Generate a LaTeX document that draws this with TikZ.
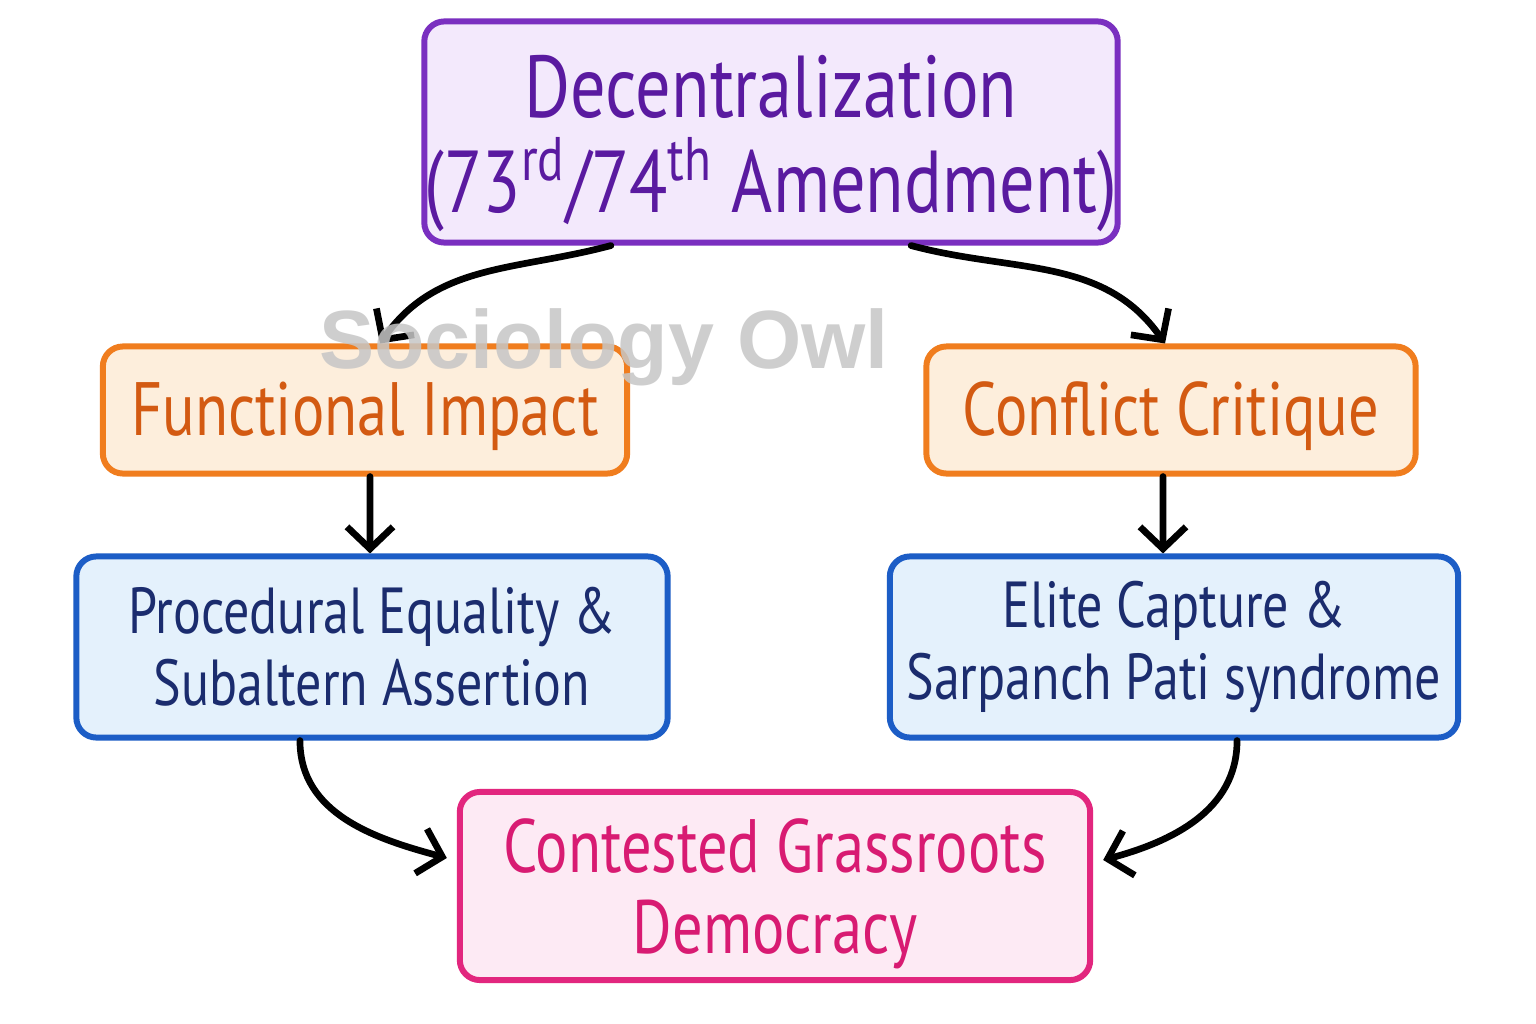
\documentclass[tikz,border=0pt]{standalone}
\usepackage{fontspec}
\setmainfont{PT Sans}[FakeStretch=0.8]
\newfontfamily\markfont{Liberation Sans}
\usetikzlibrary{positioning}
\usetikzlibrary{arrows.meta}

\definecolor{purpleline}{HTML}{7A2FC0}
\definecolor{purplefill}{HTML}{F3E9FC}
\definecolor{purpletext}{HTML}{5A1AA0}
\definecolor{orangeline}{HTML}{F07D1E}
\definecolor{orangefill}{HTML}{FDEEDC}
\definecolor{orangetext}{HTML}{D35A12}
\definecolor{blueline}{HTML}{1C5DC6}
\definecolor{bluefill}{HTML}{E4F1FC}
\definecolor{bluetext}{HTML}{1B2C6E}
\definecolor{pinkline}{HTML}{E2267E}
\definecolor{pinkfill}{HTML}{FDEAF4}
\definecolor{pinktext}{HTML}{D81B72}
\definecolor{markgray}{HTML}{C6C6C6}

\begin{document}
\begin{tikzpicture}[x=0.01cm, y=-0.01cm,
    box/.style={draw, rounded corners=0.2cm, line width=1.7pt, align=center, inner sep=0pt},
    arr/.style={-{Straight Barb[length=2.2mm,width=4.6mm]}, line width=1.9pt, line cap=round}]
        \useasboundingbox[fill=white] (0,0) rectangle (1536,1024);
        \node[box, draw=purpleline, fill=purplefill, text=purpletext, minimum width=6.93cm, minimum height=2.21cm,
            font=\fontsize{25}{27}\selectfont] (deca) at (771,132)
            {\rule{0pt}{24pt}Decentralization\\(73\textsuperscript{rd}/74\textsuperscript{th} Amendment)};
        \node[box, draw=orangeline, fill=orangefill, text=orangetext, minimum width=5.24cm, minimum height=1.27cm,
            font=\fontsize{21.5}{26}\selectfont] (func) at (365,410) {\rule{0pt}{19pt}Functional Impact};
        \node[box, draw=orangeline, fill=orangefill, text=orangetext, minimum width=4.89cm, minimum height=1.27cm,
            font=\fontsize{21.5}{26}\selectfont] (conf) at (1171,410) {\rule{0pt}{19pt}Conflict Critique};
        \node[box, draw=blueline, fill=bluefill, text=bluetext, minimum width=5.91cm, minimum height=1.81cm,
            font=\fontsize{18.5}{20.5}\selectfont] (proc) at (372,647) {Procedural Equality \&\\Subaltern Assertion};
        \node[box, draw=blueline, fill=bluefill, text=bluetext, minimum width=5.68cm, minimum height=1.81cm,
            font=\fontsize{18.5}{20.5}\selectfont] (elite) at (1174,647) {Elite Capture \&\\Sarpanch Pati syndrome};
        \node[box, draw=pinkline, fill=pinkfill, text=pinktext, minimum width=6.30cm, minimum height=1.88cm,
            font=\fontsize{21.5}{23}\selectfont] (cont) at (775,886) {\rule{0pt}{20pt}Contested Grassroots\\Democracy};
        \draw[arr] ([xshift=-1.6cm]deca.south) to[out=195, in=55] ([xshift=0.15cm]func.north);
        \draw[arr] ([xshift=1.4cm]deca.south) to[out=-15, in=125] ([xshift=-0.06cm]conf.north);
        \draw[arr] ([xshift=0.05cm]func.south) -- ([xshift=-0.02cm]proc.north);
        \draw[arr] ([xshift=-0.08cm]conf.south) -- ([xshift=-0.11cm]elite.north);
        \draw[arr] ([xshift=-0.72cm]proc.south) to[out=-90, in=165] ([xshift=-0.1cm,yshift=0.28cm]cont.west);
        \draw[arr] ([xshift=0.63cm]elite.south) to[out=-90, in=15] ([xshift=0.1cm,yshift=0.26cm]cont.east);
        % watermark
        \node[text=markgray, opacity=0.85, font=\markfont\fontsize{23.5}{23.5}\selectfont\bfseries] (mark) at (604,347) {Sociology Owl};
\end{tikzpicture}
\end{document}
